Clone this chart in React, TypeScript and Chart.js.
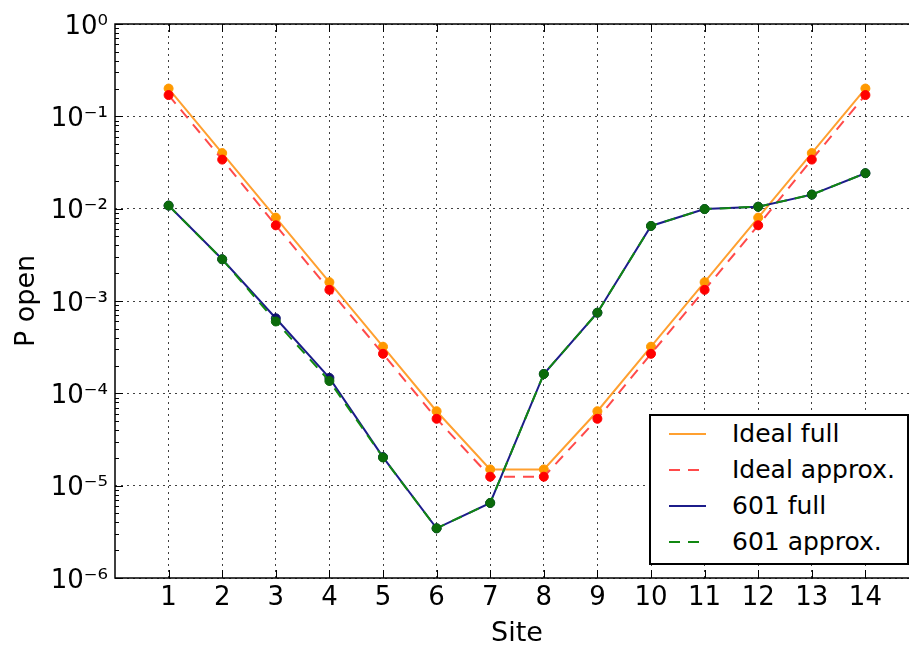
import React, { useEffect, useRef } from "react";
import { Chart, registerables } from "chart.js";

Chart.register(...registerables);

// ---- data ----
const sites = [1, 2, 3, 4, 5, 6, 7, 8, 9, 10, 11, 12, 13, 14];
const idealFull = [0.2, 0.04, 0.008, 0.0016, 0.00032, 6.4e-5, 1.5e-5, 1.5e-5, 6.4e-5, 0.00032, 0.0016, 0.008, 0.04, 0.2];
const idealApprox = [0.17, 0.034, 0.0066, 0.00132, 0.000268, 5.3e-5, 1.25e-5, 1.25e-5, 5.3e-5, 0.000268, 0.00132, 0.0066, 0.034, 0.17];
const full601 = [0.0108, 0.00283, 6.5e-4, 1.47e-4, 2.04e-5, 3.45e-6, 6.5e-6, 1.62e-4, 7.47e-4, 6.5e-3, 9.9e-3, 0.0105, 0.0142, 0.0242];
const approx601 = [0.0108, 0.00283, 6.0e-4, 1.36e-4, 2.02e-5, 3.45e-6, 6.5e-6, 1.62e-4, 7.47e-4, 6.5e-3, 9.9e-3, 0.0105, 0.0142, 0.0242];
const xTickValues = [1, 2, 3, 4, 5, 6, 7, 8, 9, 10, 11, 12, 13, 14];
const yTickExponents = [-6, -5, -4, -3, -2, -1, 0];
const legendLabels = ["Ideal full", "Ideal approx.", "601 full", "601 approx."];

const FONT = "'DejaVu Sans', sans-serif";
const ORANGE_LINE = "#ffa030";
const ORANGE_PT = "#ff9900";
const RED_LINE = "#ff4a4a";
const RED_PT = "#ff0000";
const NAVY_LINE = "#1c1c8a";
const NAVY_PT = "#101070";
const GREEN_LINE = "#118811";
const GREEN_PT = "#0b6b0b";
const DASH = [11, 8];

const SUP: Record<string, string> = {
  "0": "\u2070", "1": "\u00b9", "2": "\u00b2", "3": "\u00b3", "4": "\u2074",
  "5": "\u2075", "6": "\u2076", "7": "\u2077", "8": "\u2078", "9": "\u2079", "-": "\u207b",
};
function supLabel(v: number): string {
  const e = Math.round(Math.log10(v));
  return "10" + String(e).split("").map((c) => SUP[c]).join("");
}

const framePlugin = {
  id: "frame",
  afterDraw(chart: any) {
    const { ctx, chartArea } = chart;
    const { left, right, top, bottom } = chartArea;
    const xs = chart.scales.x;
    const ys = chart.scales.y;
    ctx.save();
    ctx.strokeStyle = "#000";
    ctx.lineWidth = 1;
    ctx.beginPath();
    for (const v of xTickValues) {
      const px = Math.round(xs.getPixelForValue(v)) + 0.5;
      ctx.moveTo(px, bottom);
      ctx.lineTo(px, bottom - 8);
      ctx.moveTo(px, top);
      ctx.lineTo(px, top + 8);
    }
    for (const e of yTickExponents) {
      const py = Math.round(ys.getPixelForValue(Math.pow(10, e))) + 0.5;
      ctx.moveTo(left, py);
      ctx.lineTo(left + 8, py);
      ctx.moveTo(right, py);
      ctx.lineTo(right - 8, py);
      if (e < 0) {
        for (let m = 2; m <= 9; m++) {
          const pm = Math.round(ys.getPixelForValue(m * Math.pow(10, e))) + 0.5;
          ctx.moveTo(left, pm);
          ctx.lineTo(left + 4, pm);
          ctx.moveTo(right, pm);
          ctx.lineTo(right - 4, pm);
        }
      }
    }
    ctx.stroke();
    ctx.lineWidth = 1.5;
    ctx.strokeRect(left, top, right - left, bottom - top);
    ctx.restore();
  },
};

function Handle({ color, dashed }: { color: string; dashed: boolean }) {
  return (
    <svg width={37} height={6} style={{ position: "absolute", left: 18, top: -3 }}>
      <line x1={0} y1={3} x2={37} y2={3} stroke={color} strokeWidth={2}
        strokeDasharray={dashed ? DASH.join(" ") : undefined} />
    </svg>
  );
}

export default function App() {
  const ref = useRef<HTMLCanvasElement>(null);
  useEffect(() => {
    const mk = (vals: number[]) => sites.map((s, i) => ({ x: s, y: vals[i] }));
    const base = { pointRadius: 4.5, pointBorderWidth: 1, tension: 0, fill: false, borderWidth: 2 };
    const chart = new Chart(ref.current as HTMLCanvasElement, {
      type: "line",
      data: {
        datasets: [
          { ...base, label: legendLabels[0], data: mk(idealFull), borderColor: ORANGE_LINE, pointBackgroundColor: ORANGE_PT, pointBorderColor: ORANGE_PT, order: 4 },
          { ...base, label: legendLabels[1], data: mk(idealApprox), borderColor: RED_LINE, borderDash: DASH, pointBackgroundColor: RED_PT, pointBorderColor: RED_PT, order: 3 },
          { ...base, label: legendLabels[2], data: mk(full601), borderColor: NAVY_LINE, pointBackgroundColor: NAVY_PT, pointBorderColor: NAVY_PT, order: 2 },
          { ...base, label: legendLabels[3], data: mk(approx601), borderColor: GREEN_LINE, borderDash: DASH, pointBackgroundColor: GREEN_PT, pointBorderColor: GREEN_PT, order: 1 },
        ] as any,
      },
      options: {
        animation: false,
        responsive: false,
        devicePixelRatio: 1,
        layout: { padding: { top: 24, right: 11, left: 0, bottom: 0 } },
        plugins: { legend: { display: false }, tooltip: { enabled: false } },
        scales: {
          x: {
            type: "linear",
            min: 0,
            max: 15,
            afterBuildTicks: (s: any) => { s.ticks = xTickValues.map((v) => ({ value: v })); },
            afterFit: (s: any) => { s.height = 69; },
            grid: { color: "rgba(0,0,0,0.75)", lineWidth: 1, drawTicks: false },
            border: { display: false, dash: [2, 4] },
            ticks: { color: "#000", font: { family: FONT, size: 26 }, padding: 5, autoSkip: false, maxRotation: 0, callback: (v: any) => String(v) },
            title: { display: true, text: "Site", color: "#000", font: { family: FONT, size: 27, lineHeight: 1 }, padding: 0 },
          },
          y: {
            type: "logarithmic",
            min: 1e-6,
            max: 1,
            afterBuildTicks: (s: any) => { s.ticks = yTickExponents.map((e) => ({ value: Math.pow(10, e) })); },
            afterFit: (s: any) => { s.width = 115; },
            grid: { color: "rgba(0,0,0,0.75)", lineWidth: 1, drawTicks: false },
            border: { display: false, dash: [2, 4] },
            ticks: { color: "#000", font: { family: FONT, size: 26 }, padding: 7, labelOffset: 3, autoSkip: false, callback: (v: any) => supLabel(Number(v)) },
            title: { display: true, text: "P open", color: "#000", font: { family: FONT, size: 27, lineHeight: 1 }, padding: { top: 13, bottom: 0 } },
          },
        },
      } as any,
      plugins: [framePlugin],
    });
    return () => chart.destroy();
  }, []);

  const items = [
    { label: legendLabels[0], color: ORANGE_LINE, dashed: false },
    { label: legendLabels[1], color: RED_LINE, dashed: true },
    { label: legendLabels[2], color: NAVY_LINE, dashed: false },
    { label: legendLabels[3], color: GREEN_LINE, dashed: true },
  ];
  const rowCenters = [20, 56, 92, 128];

  return (
    <div style={{ position: "absolute", left: 0, top: 0, width: 909, height: 647, overflow: "hidden", background: "#fff" }}>
      <canvas ref={ref} width={930} height={647} style={{ width: 930, height: 647, display: "block" }} />
      <div style={{
        position: "absolute", left: 649, top: 414, width: 260, height: 151, boxSizing: "border-box",
        border: "2px solid #000", background: "#fff", fontFamily: FONT, fontSize: 25, color: "#000",
      }}>
        {items.map((it, i) => (
          <div key={it.label} style={{ position: "absolute", left: 0, top: rowCenters[i] - 2, width: "100%", height: 0 }}>
            <Handle color={it.color} dashed={it.dashed} />
            <div style={{ position: "absolute", left: 81, top: -18, height: 36, lineHeight: "36px", whiteSpace: "nowrap" }}>{it.label}</div>
          </div>
        ))}
      </div>
    </div>
  );
}
